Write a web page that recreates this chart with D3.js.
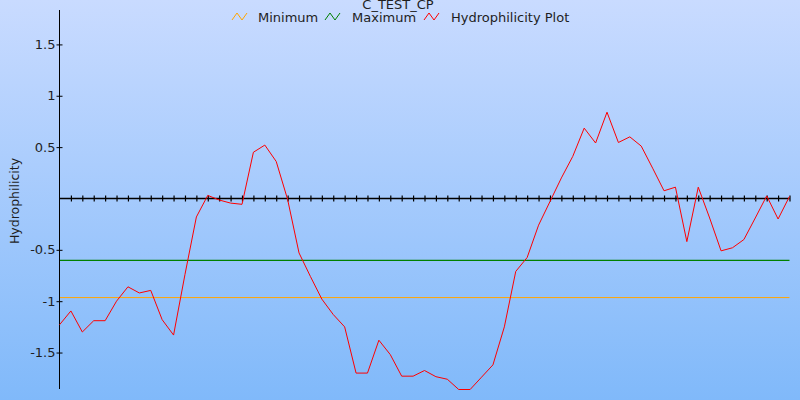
<!DOCTYPE html>
<html><head><meta charset="utf-8">
<script src="https://cdn.jsdelivr.net/npm/d3@7"></script>
<style>html,body{margin:0;padding:0;}svg{display:block;}</style>
</head><body>
<svg id="chart" width="800" height="400"></svg>
<script>
const title = "C_TEST_CP";
const yLabel = "Hydrophilicity";
const seriesNames = ["Minimum", "Maximum", "Hydrophilicity Plot"];
const seriesColors = ["#ffa500", "#008000", "#ff0000"];
const minimumValue = -0.965;
const maximumValue = -0.602;
const hydro = [
  -1.23, -1.095, -1.30, -1.19, -1.19, -1.00, -0.86, -0.92, -0.895, -1.18,
  -1.33, -0.74, -0.18, 0.03, -0.015, -0.045, -0.057, 0.45, 0.52, 0.36,
  -0.01, -0.53, -0.76, -0.98, -1.13, -1.25, -1.70, -1.70, -1.38, -1.52,
  -1.73, -1.73, -1.675, -1.735, -1.76, -1.86, -1.86, -1.74, -1.62, -1.25,
  -0.71, -0.575, -0.26, -0.03, 0.20, 0.41, 0.685, 0.54, 0.84, 0.545,
  0.60, 0.51, 0.295, 0.075, 0.11, -0.42, 0.11, -0.19, -0.51, -0.48,
  -0.40, -0.19, 0.025, -0.20, 0.02
];
const yTicks = [-1.5, -1, -0.5, 0.5, 1, 1.5];
const yTickLabels = ["-1.5", "-1", "-0.5", "0.5", "1", "1.5"];

const svg = d3.select("#chart");
const W = 800, H = 400;
const defs = svg.append("defs");
const grad = defs.append("linearGradient").attr("id", "bg").attr("x1", 0).attr("y1", 0).attr("x2", 0).attr("y2", 1);
grad.append("stop").attr("offset", "0%").attr("stop-color", "#c9dbff");
grad.append("stop").attr("offset", "100%").attr("stop-color", "#80b9fa");
svg.append("rect").attr("width", W).attr("height", H).attr("fill", "url(#bg)");

const x = d3.scaleLinear().domain([0, hydro.length - 1]).range([59.5, 789.5]);
const y = d3.scaleLinear().domain([-1.855, 1.835]).range([389, 10]);
const font = "DejaVu Sans, Verdana, sans-serif";

// Minimum / Maximum lines
const idx = d3.range(hydro.length);
const lineGen = d3.line().x(d => d[0]).y(d => d[1]);
svg.append("path").attr("d", lineGen([[x(0), y(minimumValue)], [x(hydro.length - 1), y(minimumValue)]]))
  .attr("stroke", seriesColors[0]).attr("stroke-width", 1).attr("fill", "none");
svg.append("path").attr("d", lineGen([[x(0), y(maximumValue)], [x(hydro.length - 1), y(maximumValue)]]))
  .attr("stroke", seriesColors[1]).attr("stroke-width", 1.2).attr("fill", "none");

// x axis at zero
const xAxis = d3.axisBottom(x).tickValues(idx.slice(1)).tickSize(3).tickFormat("");
const xg = svg.append("g").attr("transform", `translate(0,${Math.round(y(0)) + 0.5})`).call(xAxis);
xg.select(".domain").attr("stroke", "#000").attr("stroke-width", 1.6).attr("d", `M${x(0)},0H${x(hydro.length - 1)}`);
xg.selectAll(".tick line").attr("stroke", "#000").attr("stroke-width", 1.2).attr("y1", -3).attr("y2", 3);

// y axis
const yAxis = d3.axisLeft(y).tickValues(yTicks).tickSize(3).tickFormat((d, i) => yTickLabels[i]).tickPadding(1);
const yg = svg.append("g").attr("transform", "translate(59.5,0)").call(yAxis);
yg.select(".domain").attr("stroke", "#000").attr("d", "M0,10V389");
yg.selectAll(".tick line").attr("stroke", "#000").attr("x1", -3).attr("x2", 3);
yg.selectAll(".tick text").attr("font-family", font).attr("font-size", 13).attr("fill", "#1e1e1e").attr("dx", 0);

// data line
const dataLine = d3.line().x((d, i) => x(i)).y(d => y(d));
svg.append("path").datum(hydro).attr("d", dataLine).attr("fill", "none")
  .attr("stroke", seriesColors[2]).attr("stroke-width", 1);

// title
svg.append("text").attr("x", 398).attr("y", 9).attr("text-anchor", "middle")
  .attr("font-family", font).attr("font-size", 13).attr("fill", "#1e1e1e").text(title);

// y label
svg.append("text").attr("transform", "translate(19,201) rotate(-90)").attr("text-anchor", "middle")
  .attr("font-family", font).attr("font-size", 12.5).attr("fill", "#1e1e1e").text(yLabel);

// legend
const legendIconX = [232, 325, 424];
const legendTextX = [258, 352, 451];
seriesNames.forEach((name, i) => {
  const ix = legendIconX[i];
  svg.append("path").attr("d", lineGen([[ix, 20], [ix + 5, 13], [ix + 10, 20], [ix + 15, 13]]))
    .attr("fill", "none").attr("stroke", seriesColors[i]).attr("stroke-width", 1);
  svg.append("text").attr("x", legendTextX[i]).attr("y", 22).attr("font-family", font)
    .attr("font-size", 13).attr("fill", "#1e1e1e").text(name);
});
</script>
</body></html>
